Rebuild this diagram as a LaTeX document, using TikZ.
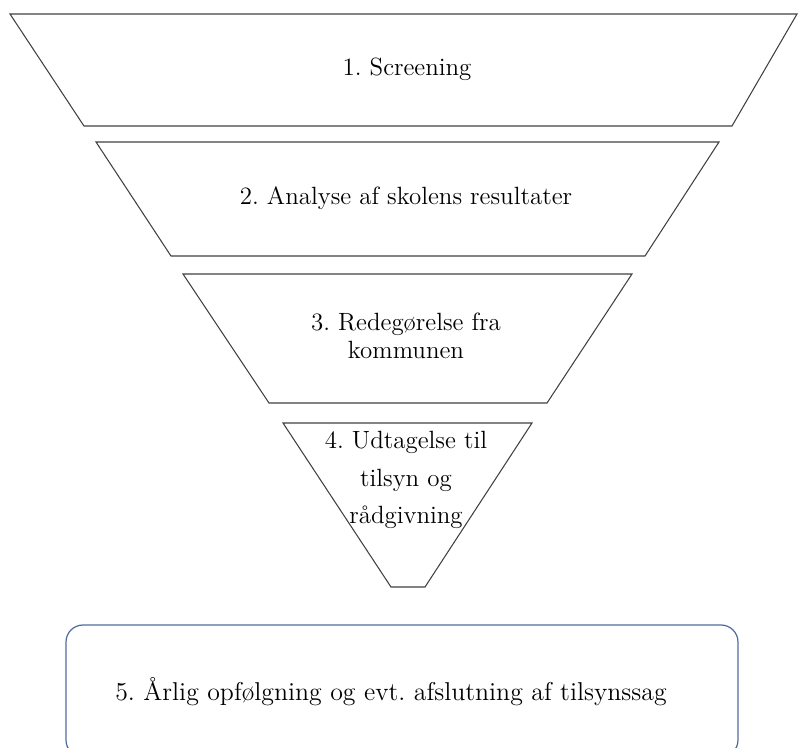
\documentclass[tikz,border=0pt]{standalone}
\usepackage{tikz}
\usetikzlibrary{positioning}
\definecolor{funnelgray}{rgb}{0.25,0.25,0.25}
\definecolor{boxblue}{rgb}{0.32,0.42,0.62}
\frenchspacing

\begin{document}
\begin{tikzpicture}[x=0.02cm, y=-0.02cm, every node/.style={font=\fontsize{14.2}{16}\selectfont, align=center}]
			\useasboundingbox (0,0) rectangle (799,748);
			\clip (0,0) rectangle (799,748);
			%% funnel, top to bottom
			\draw [funnelgray, line width=0.6pt] (10,14) -- (797,14) -- (732,126) -- (84,126) -- cycle;
			\draw [funnelgray, line width=0.6pt] (96,142) -- (719,142) -- (645,256) -- (171,256) -- cycle;
			\draw [funnelgray, line width=0.6pt] (183,274) -- (632,274) -- (547,403) -- (269,403) -- cycle;
			\draw [funnelgray, line width=0.6pt] (283,423) -- (532,423) -- (425,587) -- (391,587) -- cycle;
			
			\node (screening) at (407,69) {1. Screening};
			\node (analyse) at (406,198) {2. Analyse af skolens resultater};
			\node (redegoerelse) at (406,336) {3. Redegørelse fra\\ kommunen};
			\node[font=\fontsize{14.2}{21.5}\selectfont] (udtagelse) at (406,480) {4. Udtagelse til\\ tilsyn og\\ rådgivning};
			
			%% last step, box below the funnel
			\draw [boxblue, line width=0.7pt, rounded corners=0.34cm] (66,625) rectangle (738,757);
			\node[font=\fontsize{14.7}{17}\selectfont] (opfoelgning) at (391,692) {5. Årlig opfølgning og evt. afslutning af tilsynssag};
\end{tikzpicture}
\end{document}
